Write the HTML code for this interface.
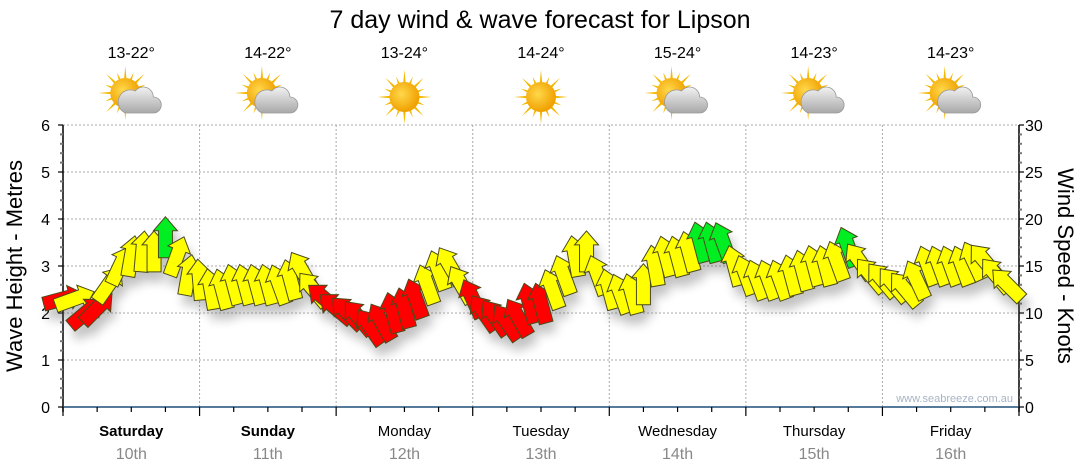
<!DOCTYPE html>
<html><head><meta charset="utf-8"><style>
body{margin:0;background:#fff;}
svg{display:block;font-family:"Liberation Sans",Arial,sans-serif;}
</style></head><body>
<svg id="chart" width="1080" height="475" viewBox="0 0 1080 475" xmlns="http://www.w3.org/2000/svg">
<defs>
<radialGradient id="sunG" cx="0.4" cy="0.4" r="0.6"><stop offset="0" stop-color="#ffd84a"/><stop offset="1" stop-color="#f0a000"/></radialGradient>
<linearGradient id="cloudG" x1="0" y1="0" x2="0" y2="1"><stop offset="0" stop-color="#f2f2f2"/><stop offset="1" stop-color="#a8a8a8"/></linearGradient>
<filter id="shadow" x="-50%" y="-50%" width="200%" height="200%"><feGaussianBlur stdDeviation="5"/></filter>
</defs>
<text x="540" y="28" font-size="25" text-anchor="middle" fill="#000">7 day wind &amp; wave forecast for Lipson</text>
<g id="icons"></g>
<g id="grid"></g>
<g id="axes"></g>
<g id="shadows" filter="url(#shadow)" opacity="0.35"></g>
<g id="arrows"></g>
<text x="1013" y="402" font-size="11" text-anchor="end" fill="#a8b4c4">www.seabreeze.com.au</text>
<text transform="translate(22,266) rotate(-90)" font-size="22" text-anchor="middle">Wave Height - Metres</text>
<text transform="translate(1058,266) rotate(90)" font-size="22" text-anchor="middle">Wind Speed - Knots</text>
</svg>
<script>
const days = ["Saturday","Sunday","Monday","Tuesday","Wednesday","Thursday","Friday"];
const dates = ["10th","11th","12th","13th","14th","15th","16th"];
const temps = ["13-22°","14-22°","13-24°","14-24°","15-24°","14-23°","14-23°"];
const sunny = [false,false,true,true,false,false,false];
const waveTicks = [0,1,2,3,4,5,6];
const windTicks = [0,5,10,15,20,25,30];
const windSpeed = [11.5,11.5,10,10.5,13,15,16,16.5,16.5,18,16,14,
 13.5,12.5,12.5,13,13,13,13,13,13.5,14.5,12.5,11.5,
 10.5,10,9.5,8.5,9,10,10.5,11.5,13,14.5,15,13,
 11.5,10,9.5,9,9.5,11,11,12.5,14,16,16.5,14,
 12.5,12,12,13,15,16,16,16.5,17.5,17.5,17.5,15,
 14,13.5,13.5,13.5,14,14.5,15,15,15.5,17,15.5,14,
 13.5,13,12.5,13.5,15,15,15,15,15.5,15.5,14,13];
const windDir = [75,70,50,45,35,25,10,5,0,0,20,10,
 -5,-10,-15,-15,-15,-15,-15,-20,-15,-30,-40,-50,
 -50,-45,-40,-35,-30,-15,-15,-20,-20,-20,-30,-30,
 -25,-35,-35,-35,-30,-15,-15,-20,-20,-10,0,-20,
 -15,-20,-15,0,-10,-15,-15,-15,-15,-15,-20,-15,
 -20,-20,-20,-20,-15,-15,-15,-15,-20,-20,-35,-40,
 -40,-40,-40,-25,-20,-20,-20,-20,-25,-40,-40,-45];
const windColor = ["r","y","r","r","y","y","y","y","y","g","y","y",
 "y","y","y","y","y","y","y","y","y","y","y","r",
 "r","r","r","r","r","r","r","r","y","y","y","y",
 "r","r","r","r","r","r","r","y","y","y","y","y",
 "y","y","y","y","y","y","y","y","g","g","g","y",
 "y","y","y","y","y","y","y","y","y","g","y","y",
 "y","y","y","y","y","y","y","y","y","y","y","y"];
const X0=63, X1=1019, Y0=407, Y1=125, DAYW=(X1-X0)/7;
const NS="http://www.w3.org/2000/svg";
function xHour(h){return X0 + h/24*DAYW;}
function yWave(m){return Y0 - m/6*(Y0-Y1);}
function yWind(k){return Y0 - k/30*(Y0-Y1);}
function mk(tag,attrs,parent){const e=document.createElementNS(NS,tag);for(const k in attrs)e.setAttribute(k,attrs[k]);parent.appendChild(e);return e;}
const grid=document.getElementById('grid'), axes=document.getElementById('axes'), icons=document.getElementById('icons');
waveTicks.forEach(t=>{ if(t>0){const l=mk('line',{x1:X0,x2:X1,y1:yWave(t),y2:yWave(t),stroke:'#aaa','stroke-dasharray':'2,2','stroke-width':1},grid);

}});
for(let d=1;d<7;d++){const l=mk('line',{x1:xHour(d*24),x2:xHour(d*24),y1:Y1,y2:Y0,stroke:'#aaa','stroke-dasharray':'2,2'},grid);

}
mk('line',{x1:X0,x2:X0,y1:Y1,y2:Y0+5,stroke:'#000','stroke-width':1.5},axes);
mk('line',{x1:X1,x2:X1,y1:Y1,y2:Y0+5,stroke:'#000','stroke-width':1.5},axes);
mk('line',{x1:X0,x2:X1,y1:Y0,y2:Y0,stroke:'#1f4e79','stroke-width':1.5},axes);
for(let i=0;i<=30;i++){const y=yWave(i*0.2);mk('line',{x1:X0-(i%5==0?5:3),x2:X0,y1:y,y2:y,stroke:i%5==0?'#000':'#777','stroke-width':i%5==0?1.2:2},axes);}
for(let i=0;i<=30;i++){const y=yWind(i);mk('line',{x1:X1,x2:X1+(i%5==0?5:3),y1:y,y2:y,stroke:i%5==0?'#000':'#777','stroke-width':i%5==0?1.2:2},axes);}
waveTicks.forEach(t=>{const e=mk('text',{x:X0-13,y:yWave(t)+6,'font-size':16,'text-anchor':'end'},axes);e.textContent=t;

});
windTicks.forEach(t=>{const e=mk('text',{x:X1+6,y:yWind(t)+6,'font-size':16},axes);e.textContent=t;

});
for(let q=0;q<=28;q++){const x=xHour(q*6);mk('line',{x1:x,x2:x,y1:Y0,y2:Y0+(q%4==0?9:5),stroke:'#000','stroke-width':1.2},axes);}
days.forEach((d,i)=>{const cx=xHour(i*24+12);
 const t=mk('text',{x:cx,y:436,'font-size':15,'text-anchor':'middle','font-weight':i<2?'bold':'normal'},axes);t.textContent=d;
 
 
 const t2=mk('text',{x:cx,y:459,'font-size':16,'text-anchor':'middle',fill:'#888'},axes);t2.textContent=dates[i];
 
 
 const t3=mk('text',{x:cx,y:58,'font-size':16,'text-anchor':'middle'},icons);t3.textContent=temps[i];
 
 
 const g=mk('g',{transform:`translate(${cx},97)`},icons);
 
 
 const sx=sunny[i]?0:-6, sy=sunny[i]?0:-4;
 for(let a=0;a<16;a++){const an=a*Math.PI/8, r2=a%2?22:27;
  mk('polygon',{points:`${sx+Math.cos(an-0.12)*12},${sy+Math.sin(an-0.12)*12} ${sx+Math.cos(an)*r2},${sy+Math.sin(an)*r2} ${sx+Math.cos(an+0.12)*12},${sy+Math.sin(an+0.12)*12}`,fill:'#f5b800'},g);}
 mk('circle',{cx:sx,cy:sy,r:15,fill:'url(#sunG)'},g);
 if(!sunny[i]){
  mk('path',{d:'M-6,16 h28 a8,8 0 0 0 0,-16 a10,10 0 0 0 -18,-6 a8,8 0 0 0 -10,22 z',fill:'url(#cloudG)',stroke:'#999','stroke-width':0.8},g);
 }
});
const arrowsG=document.getElementById('arrows'), shG=document.getElementById('shadows');
const colors={r:'#ff0000',y:'#ffff00',g:'#00ee22'};
const shape="0,-21 12,-7 7,-7 7,20 -7,20 -7,-7 -12,-7";
for(let i=0;i<windSpeed.length;i++){
 const x=xHour(i*2), y=yWind(windSpeed[i]);
 mk('polygon',{points:shape,transform:`translate(${x+4},${y+10}) rotate(${windDir[i]})`,fill:'#555'},shG);
 const p=mk('polygon',{points:shape,transform:`translate(${x},${y}) rotate(${windDir[i]})`,fill:colors[windColor[i]],stroke:'#4a4a1a','stroke-width':1},arrowsG);
 
 
}
</script>
</body></html>
